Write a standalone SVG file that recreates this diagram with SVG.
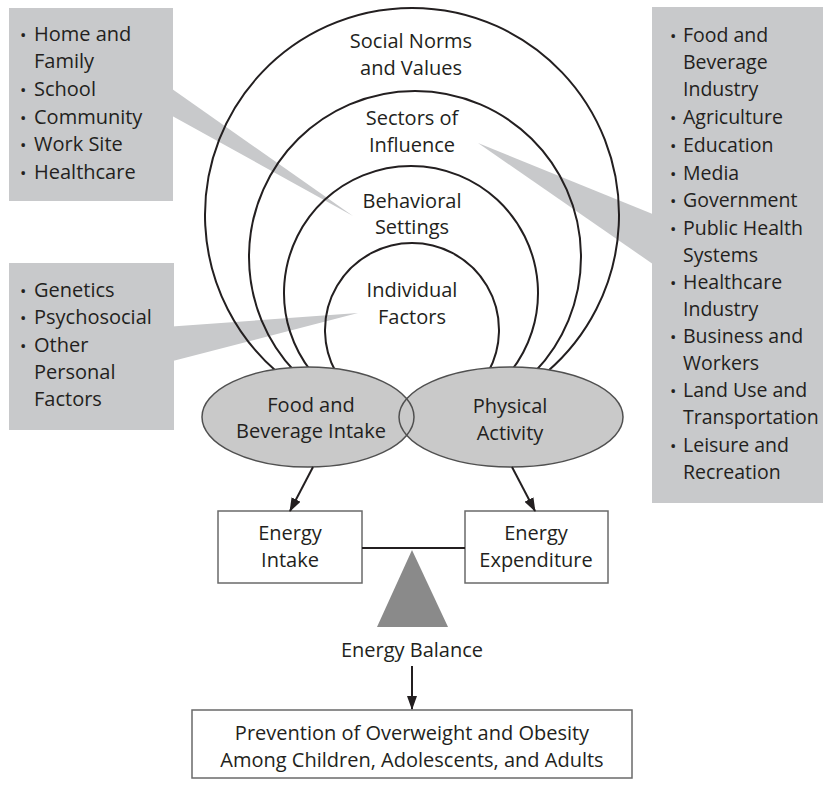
<svg xmlns="http://www.w3.org/2000/svg" width="823" height="786" viewBox="0 0 823 786">
  <defs>
    <style>
      text { font-family: "Open Sans", "Liberation Sans", sans-serif; font-size: 20px; fill: #231f20; }
      .c { text-anchor: middle; }
      .r { font-size: 19.5px; }
      .b { font-size: 17px; }
      .callout { fill: #c8c9cb; }
      .arc { fill: none; stroke: #231f20; stroke-width: 2; }
      .ell { fill: #c9c9c9; }
      .ell-s { fill: none; stroke: #505050; stroke-width: 1.5; }
      .box { fill: #ffffff; stroke: #6a6a6a; stroke-width: 1.5; }
      .conn { stroke: #231f20; stroke-width: 2; fill: none; }
    </style>
    <marker id="ah" viewBox="0 0 14 10" refX="13" refY="5" markerWidth="14" markerHeight="10" markerUnits="userSpaceOnUse" orient="auto">
      <path d="M0,0 L14,5 L0,10 Z" fill="#231f20"/>
    </marker>
  </defs>

  <g id="callout-settings">
    <polygon class="callout" points="165,84 353,216 165,112"/>
    <rect class="callout" x="9" y="8" width="164" height="193"/>
    <text x="20" y="41"><tspan class="b">•</tspan><tspan x="34">Home and</tspan></text>
    <text x="34" y="68">Family</text>
    <text x="20" y="96"><tspan class="b">•</tspan><tspan x="34">School</tspan></text>
    <text x="20" y="124"><tspan class="b">•</tspan><tspan x="34">Community</tspan></text>
    <text x="20" y="151"><tspan class="b">•</tspan><tspan x="34">Work Site</tspan></text>
    <text x="20" y="179"><tspan class="b">•</tspan><tspan x="34">Healthcare</tspan></text>
  </g>

  <g id="callout-personal">
    <polygon class="callout" points="165,327 358,313 165,363"/>
    <rect class="callout" x="9" y="263" width="165" height="167"/>
    <text x="20" y="297"><tspan class="b">•</tspan><tspan x="34">Genetics</tspan></text>
    <text x="20" y="324"><tspan class="b">•</tspan><tspan x="34">Psychosocial</tspan></text>
    <text x="20" y="352"><tspan class="b">•</tspan><tspan x="34">Other</tspan></text>
    <text x="34" y="379">Personal</text>
    <text x="34" y="406">Factors</text>
  </g>

  <g id="callout-sectors">
    <polygon class="callout" points="660,217 478,143 660,269"/>
    <rect class="callout" x="652" y="7" width="171" height="496"/>
    <text class="r" x="670" y="42"><tspan class="b">•</tspan><tspan x="683">Food and</tspan></text>
    <text class="r" x="683" y="69">Beverage</text>
    <text class="r" x="683" y="96">Industry</text>
    <text class="r" x="670" y="124"><tspan class="b">•</tspan><tspan x="683">Agriculture</tspan></text>
    <text class="r" x="670" y="152"><tspan class="b">•</tspan><tspan x="683">Education</tspan></text>
    <text class="r" x="670" y="180"><tspan class="b">•</tspan><tspan x="683">Media</tspan></text>
    <text class="r" x="670" y="207"><tspan class="b">•</tspan><tspan x="683">Government</tspan></text>
    <text class="r" x="670" y="235"><tspan class="b">•</tspan><tspan x="683">Public Health</tspan></text>
    <text class="r" x="683" y="262">Systems</text>
    <text class="r" x="670" y="289"><tspan class="b">•</tspan><tspan x="683">Healthcare</tspan></text>
    <text class="r" x="683" y="316">Industry</text>
    <text class="r" x="670" y="343"><tspan class="b">•</tspan><tspan x="683">Business and</tspan></text>
    <text class="r" x="683" y="370">Workers</text>
    <text class="r" x="670" y="397"><tspan class="b">•</tspan><tspan x="683">Land Use and</tspan></text>
    <text class="r" x="683" y="424">Transportation</text>
    <text class="r" x="670" y="452"><tspan class="b">•</tspan><tspan x="683">Leisure and</tspan></text>
    <text class="r" x="683" y="479">Recreation</text>
  </g>

  <g id="layer-social-norms">
    <path class="arc" d="M277.1,372 A207,207 0 1 1 546.9,372"/>
    <text class="c" x="411" y="48">Social Norms</text>
    <text class="c" x="411" y="75">and Values</text>
  </g>
  <g id="layer-sectors">
    <path class="arc" d="M295.3,372 A166,166 0 1 1 534.7,372"/>
    <text class="c" x="412" y="125">Sectors of</text>
    <text class="c" x="412" y="152">Influence</text>
  </g>
  <g id="layer-behavioral">
    <path class="arc" d="M311.6,372 A127,127 0 1 1 510.4,372"/>
    <text class="c" x="412" y="208">Behavioral</text>
    <text class="c" x="412" y="234">Settings</text>
  </g>
  <g id="layer-individual">
    <path class="arc" d="M335.8,372 A87,87 0 1 1 488.2,372"/>
    <text class="c" x="412" y="297">Individual</text>
    <text class="c" x="412" y="324">Factors</text>
  </g>

  <g id="node-food">
    <ellipse class="ell" cx="308" cy="417" rx="106" ry="50"/>
  </g>
  <g id="node-activity">
    <ellipse class="ell" cx="511" cy="417" rx="112" ry="50"/>
    <ellipse class="ell-s" cx="511" cy="417" rx="112" ry="50"/>
    <text class="c" x="510" y="413">Physical</text>
    <text class="c" x="510" y="440">Activity</text>
  </g>
  <g id="node-food-label">
    <ellipse class="ell-s" cx="308" cy="417" rx="106" ry="50"/>
    <text class="c" x="311" y="412">Food and</text>
    <text class="c" x="311" y="438">Beverage Intake</text>
  </g>

  <g id="node-energy-intake">
    <rect class="box" x="218" y="511" width="144" height="72"/>
    <text class="c" x="290" y="540">Energy</text>
    <text class="c" x="290" y="567">Intake</text>
  </g>
  <g id="node-energy-expenditure">
    <rect class="box" x="465" y="511" width="143" height="72"/>
    <text class="c" x="536" y="540">Energy</text>
    <text class="c" x="536" y="567">Expenditure</text>
  </g>

  <g id="node-energy-balance">
    <polygon points="412,550 377,627 448,627" fill="#8a8a8a"/>
    <text class="c" x="412" y="657">Energy Balance</text>
  </g>

  <g id="node-prevention">
    <rect class="box" x="192" y="710" width="440" height="68"/>
    <text class="c" x="412" y="740">Prevention of Overweight and Obesity</text>
    <text class="c" x="412" y="767">Among Children, Adolescents, and Adults</text>
  </g>

  <g id="connectors">
    <line class="conn" x1="313" y1="467" x2="290" y2="511" marker-end="url(#ah)"/>
    <line class="conn" x1="512" y1="467" x2="535" y2="511" marker-end="url(#ah)"/>
    <line x1="362" y1="548" x2="465" y2="548" stroke="#231f20" stroke-width="2"/>
    <line class="conn" x1="412" y1="666" x2="412" y2="709" stroke-width="1.8" marker-end="url(#ah)"/>
  </g>
</svg>
